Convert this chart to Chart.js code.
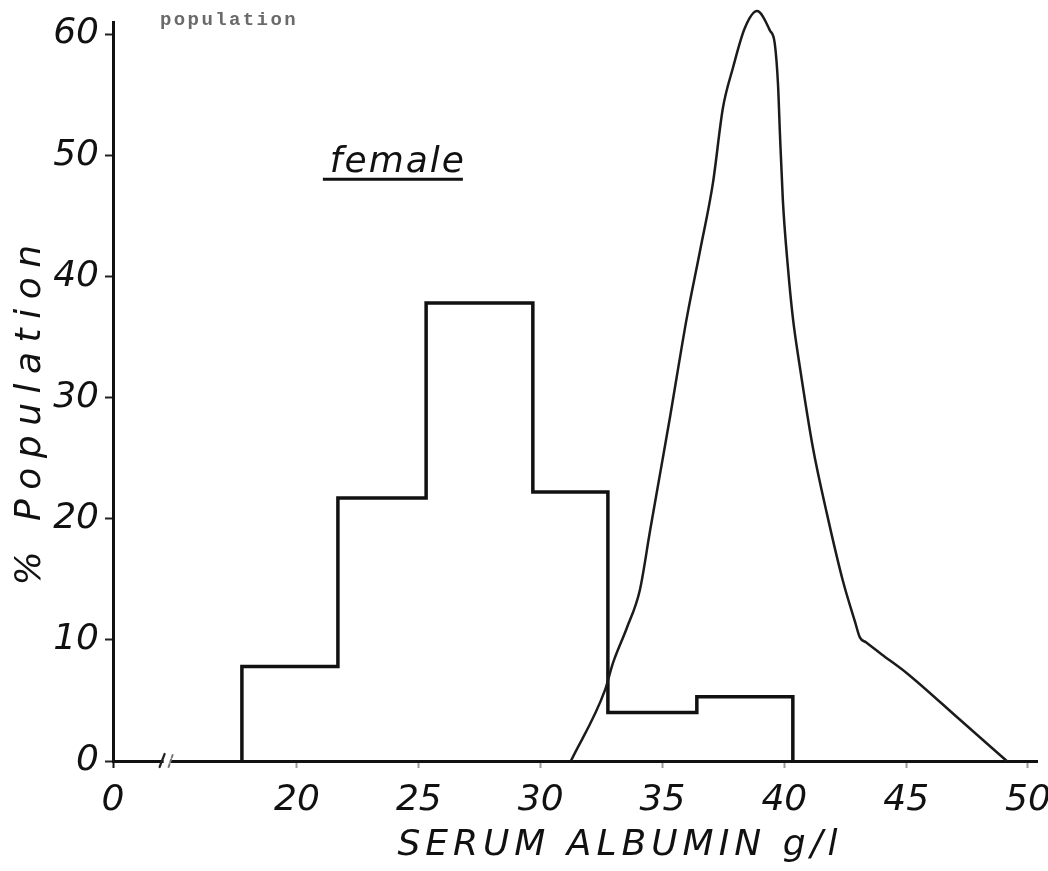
<!DOCTYPE html>
<html>
<head>
<meta charset="utf-8">
<title>Serum albumin – female</title>
<script src="https://cdn.jsdelivr.net/npm/chart.js@4/dist/chart.umd.min.js"></script>
<style>
  html, body { margin: 0; padding: 0; background: #fff; }
  #wrap { width: 1048px; height: 871px; position: relative; }
</style>
</head>
<body>
<div id="wrap"><canvas id="c"></canvas></div>
<script>
// Serum albumin (g/l): female patients as a histogram, reference population as a curve.
const binEdges = [17.74, 21.68, 25.3, 29.68, 32.76, 36.41, 40.35];   // bin boundaries, g/l
const femalePct = [7.8, 21.7, 37.8, 22.2, 4.0, 5.3];                 // % of females per bin

const refAlbumin = [31.24, 32.64, 32.97, 33.54, 34.07, 34.49, 34.90, 35.31, 36.00, 36.54,
                    37.07, 37.48, 37.89, 38.38, 38.88, 39.41, 39.61, 39.74, 39.82, 39.94,
                    40.15, 40.35, 40.64, 41.17, 41.75, 42.40, 42.90, 43.10, 43.35, 44.00,
                    45.03, 47.21, 49.13];
const refPct     = [0, 5.85, 8.1, 11.0, 14.1, 19.0, 23.7, 28.4, 36.6, 42.1,
                    47.7, 53.9, 57.2, 60.5, 61.9, 60.3, 59.2, 55.9, 51.8, 46.3,
                    40.7, 36.6, 32.5, 25.9, 20.4, 14.9, 11.5, 10.2, 9.8, 8.8,
                    7.25, 3.4, 0];

// broken x axis: the first tick stands for the origin
const xTickValues = [12.45, 20, 25, 30, 35, 40, 45, 50];
const xTickLabels = ['0', '20', '25', '30', '35', '40', '45', '50'];
const yTickValues = [0, 10, 20, 30, 40, 50, 60];

// outline of the histogram as a stepped line
const histPoints = [{ x: binEdges[0], y: 0 }];
femalePct.forEach((v, i) => histPoints.push({ x: binEdges[i], y: v }));
histPoints.push({ x: binEdges[binEdges.length - 1], y: 0 });

const refPoints = refAlbumin.map((x, i) => ({ x, y: refPct[i] }));

const labelFont = { family: 'DejaVu Sans', size: 36, style: 'italic', weight: 'normal' };
const ink = '#111';

// letter spacing and nudges for the two axis titles
const titleStyle = {
  x: { spacing: '5px', dx: 45, dy: 0 },
  y: { spacing: '9.5px', dx: 0, dy: 19 }
};

const spacedTitles = {
  id: 'spacedTitles',
  beforeDraw(chart) {
    Object.values(chart.scales).forEach(s => {
      if (s._spacedTitle) return;
      const st = titleStyle[s.id];
      if (!st) return;
      const orig = s.drawTitle.bind(s);
      s.drawTitle = function () {
        const ctx = this.ctx;
        ctx.save();
        ctx.letterSpacing = st.spacing;
        ctx.translate(st.dx, st.dy);
        orig();
        ctx.restore();
      };
      s._spacedTitle = true;
    });
  }
};

const extras = {
  id: 'extras',
  afterDraw(chart) {
    const { ctx, scales: { x, y } } = chart;
    ctx.save();

    // axis break near the origin
    const bx = x.getPixelForValue(14.65);
    const by = y.getPixelForValue(0);
    ctx.fillStyle = '#fff';
    ctx.fillRect(bx - 3, by - 3, 7, 6);
    ctx.lineCap = 'round';
    ctx.strokeStyle = '#222';
    ctx.lineWidth = 2.2;
    ctx.beginPath();
    ctx.moveTo(bx - 7, by + 6);
    ctx.lineTo(bx - 2, by - 7);
    ctx.stroke();
    ctx.strokeStyle = '#777';
    ctx.lineWidth = 2;
    ctx.setLineDash([3, 2]);
    ctx.beginPath();
    ctx.moveTo(bx + 2, by + 6);
    ctx.lineTo(bx + 6, by - 6);
    ctx.stroke();
    ctx.setLineDash([]);

    // "female" label, underlined
    const fx = x.getPixelForValue(21.35);
    const fy = y.getPixelForValue(48.6);
    ctx.fillStyle = ink;
    ctx.font = 'italic 36px "DejaVu Sans"';
    ctx.letterSpacing = '2px';
    ctx.textAlign = 'left';
    ctx.textBaseline = 'alphabetic';
    ctx.fillText('female', fx, fy);
    ctx.strokeStyle = ink;
    ctx.lineWidth = 3;
    ctx.lineCap = 'butt';
    ctx.beginPath();
    ctx.moveTo(fx - 7, fy + 7);
    ctx.lineTo(fx + 133, fy + 7);
    ctx.stroke();

    // header word in typewriter face
    ctx.letterSpacing = '2.4px';
    ctx.font = 'bold 19px "Liberation Mono"';
    ctx.fillStyle = '#6a6a6a';
    ctx.fillText('population', 160, 25);

    ctx.restore();
  }
};

new Chart(document.getElementById('c'), {
  type: 'line',
  data: {
    datasets: [
      {
        label: 'reference population',
        data: refPoints,
        borderColor: '#1b1b1b',
        borderWidth: 2.5,
        pointRadius: 0,
        cubicInterpolationMode: 'monotone',
        fill: false,
        clip: false
      },
      {
        label: 'female',
        data: histPoints,
        borderColor: ink,
        borderWidth: 3.5,
        pointRadius: 0,
        stepped: true,
        fill: false,
        clip: false
      }
    ]
  },
  options: {
    responsive: true,
    maintainAspectRatio: false,
    animation: false,
    events: [],
    layout: { padding: { top: 22, right: 11, bottom: 0, left: 0 } },
    plugins: { legend: { display: false }, tooltip: { enabled: false } },
    scales: {
      x: {
        type: 'linear',
        min: 12.45,
        max: 50.37,
        afterBuildTicks: s => { s.ticks = xTickValues.map(v => ({ value: v })); },
        afterFit: s => { s.height = 110; s.paddingLeft = 0; s.paddingRight = 0; },
        grid: {
          drawOnChartArea: false,
          tickLength: 7,
          tickWidth: 2,
          tickColor: c => (c.index === 0 ? ink : '#9a9a9a')
        },
        border: { display: true, color: ink, width: 3 },
        ticks: {
          autoSkip: false,
          maxRotation: 0,
          padding: 11,
          color: ink,
          font: labelFont,
          callback: (v, i) => xTickLabels[i]
        },
        title: {
          display: true,
          text: 'SERUM ALBUMIN g/l',
          color: ink,
          font: labelFont,
          padding: { top: 0, bottom: 4 }
        }
      },
      y: {
        min: 0,
        max: 61,
        afterBuildTicks: s => { s.ticks = yTickValues.map(v => ({ value: v })); },
        afterFit: s => { s.width = 113; s.paddingTop = 0; s.paddingBottom = 0; },
        grid: { drawOnChartArea: false, tickLength: 8, tickWidth: 2, tickColor: '#222' },
        border: { display: true, color: ink, width: 3 },
        ticks: { padding: 6, color: ink, font: labelFont, callback: v => String(v) },
        title: {
          display: true,
          text: '% Population',
          color: ink,
          font: labelFont,
          padding: { top: 9, bottom: 0 }
        }
      }
    }
  },
  plugins: [spacedTitles, extras]
});
</script>
</body>
</html>
